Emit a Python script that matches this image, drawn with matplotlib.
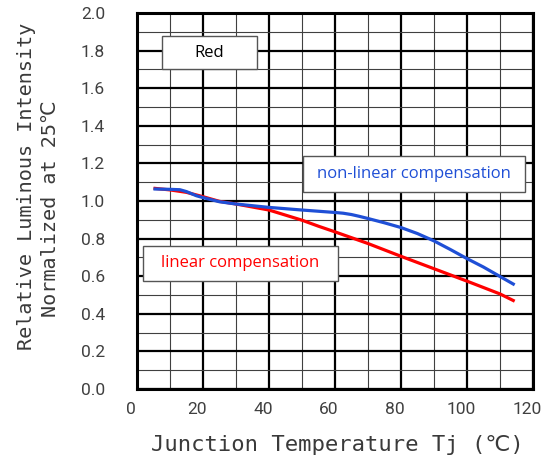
import matplotlib
matplotlib.use('Agg')
import numpy as np
from matplotlib import pyplot as plt
from matplotlib.patches import Rectangle
from matplotlib.transforms import ScaledTranslation

# junction temperature (C) and relative intensity
tjLinear = [5, 10, 15, 20, 25, 30, 40, 50, 55, 60, 70, 80, 90, 100, 110, 114.5]
ivLinear = [1.068, 1.059, 1.046, 1.023, 0.998, 0.984, 0.952, 0.898, 0.866, 0.836, 0.774, 0.706, 0.640, 0.574, 0.506, 0.467]

tjNonLinear = [5, 10, 13, 15, 18, 20, 25, 30, 40, 50, 60, 62.5, 65, 67.5, 70, 75, 80, 85, 90, 95, 100, 105, 110, 114.5]
ivNonLinear = [1.064, 1.062, 1.060, 1.050, 1.028, 1.018, 0.996, 0.984, 0.966, 0.952, 0.939, 0.935, 0.928, 0.918, 0.907,
               0.884, 0.859, 0.827, 0.788, 0.742, 0.694, 0.649, 0.599, 0.554]

xTicks = [0, 20, 40, 60, 80, 100, 120]
yTicks = [0.0, 0.2, 0.4, 0.6, 0.8, 1.0, 1.2, 1.4, 1.6, 1.8, 2.0]

RED = '#ff0000'
BLUE = '#1f4fd6'


def addBox(ax, x0, y0, x1, y1, text, color):
    ax.add_patch(Rectangle((x0, y0), x1 - x0, y1 - y0, transform=ax.transAxes,
                           facecolor='white', edgecolor='#555555', linewidth=1.0, zorder=5))
    ax.text((x0 + x1) / 2, (y0 + y1) / 2, text, transform=ax.transAxes, ha='center', va='center',
            color=color, fontsize=12, family=['Open Sans', 'DejaVu Sans'], zorder=6)


def main():
    fig = plt.figure(figsize=(5.51, 4.59), dpi=100)
    ax = fig.add_axes([0.2486, 0.1525, 0.7184, 0.8192])

    ax.set_xlim(0, 120)
    ax.set_ylim(0, 2.0)

    # fine grid every 10 C / 0.1, heavy grid every 20 C / 0.2
    ax.set_xticks(np.arange(0, 121, 10), minor=True)
    ax.set_yticks(np.arange(0, 2.01, 0.1), minor=True)
    ax.set_xticks(xTicks)
    ax.set_yticks(yTicks)
    ax.set_xticklabels([str(t) for t in xTicks])
    ax.set_yticklabels(['%.1f' % t for t in yTicks])
    ax.grid(which='minor', color='#404040', linewidth=0.8, zorder=1)
    ax.grid(which='major', color='black', linewidth=1.6, zorder=2)
    ax.set_axisbelow(True)
    ax.tick_params(which='both', length=0)
    ax.tick_params(axis='x', pad=9, labelsize=12.5, labelcolor='#404040')
    ax.tick_params(axis='y', pad=23, labelsize=12.5, labelcolor='#404040')
    for lab in ax.get_xticklabels() + ax.get_yticklabels():
        lab.set_family(['Roboto', 'DejaVu Sans'])
    shift = ScaledTranslation(-6 / 100, 0, fig.dpi_scale_trans)
    for lab in ax.get_xticklabels():
        lab.set_transform(lab.get_transform() + shift)
    for sp in ax.spines.values():
        sp.set_linewidth(2.2)
        sp.set_zorder(7)

    ax.plot(tjLinear, ivLinear, color=RED, linewidth=2.3, zorder=4, solid_capstyle='butt')
    ax.plot(tjNonLinear, ivNonLinear, color=BLUE, linewidth=2.3, zorder=4, solid_capstyle='butt')

    addBox(ax, 0.062, 0.850, 0.302, 0.939, 'Red', 'black')
    addBox(ax, 0.420, 0.525, 0.981, 0.619, 'non-linear compensation', BLUE)
    addBox(ax, 0.0144, 0.288, 0.507, 0.381, 'linear compensation', RED)

    mono = ['DejaVu Sans Mono', 'DejaVu Sans']
    fig.text(0.0490, 0.595, 'Relative Luminous Intensity', rotation=90, ha='center', va='center',
             fontsize=14.5, family=mono, color='#3a3a3a')
    fig.text(0.0925, 0.545, 'Normalized at 25℃', rotation=90, ha='center', va='center',
             fontsize=14.5, family=mono, color='#3a3a3a')
    fig.text(0.613, 0.030, 'Junction Temperature Tj (℃)', ha='center', va='center',
             fontsize=16, family=mono, color='#3a3a3a')

    fig.savefig('out.png', dpi=100)


if __name__ == '__main__':
    main()
